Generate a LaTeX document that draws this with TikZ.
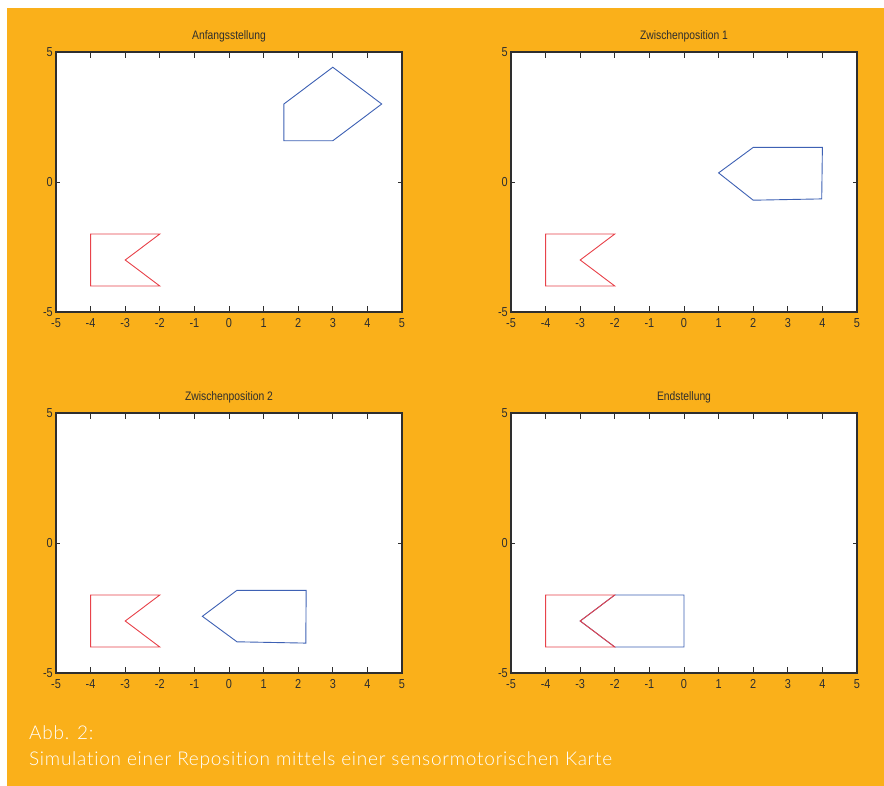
\documentclass[tikz,border=0pt]{standalone}
\usepackage{fontspec}
\setmainfont{Liberation Sans}
\newfontfamily\axfont[FakeStretch=0.84]{Liberation Sans}
\newfontfamily\capfont[LetterSpace=4,Ligatures=NoCommon]{Lato Light}
\definecolor{bg}{HTML}{FAB01A}
\definecolor{axcol}{HTML}{2E2E2E}
\definecolor{shapered}{HTML}{E8434B}
\definecolor{shapeblue}{HTML}{3E61B4}
\tikzset{
  frame/.style={draw=axcol, line width=1.2pt},
  tickline/.style={draw=axcol, line width=0.8pt},
  ptitle/.style={font=\axfont\fontsize{12.3}{13}\selectfont, text=axcol, inner sep=0pt},
  ticklab/.style={font=\axfont\fontsize{13}{13}\selectfont, text=axcol, inner sep=0pt},
  redshape/.style={draw=shapered, line width=0.9pt, line join=miter},
  blueshape/.style={draw=shapeblue, line width=0.9pt, line join=miter},
  caption/.style={font=\capfont\fontsize{19}{21}\selectfont, text=white, inner sep=0pt, anchor=base west}
}
\newcommand\myaxes[4]{%
  \begin{scope}[shift={(#2,#3)}]
    \fill[white] (-173,-130) rectangle (173,130);
    \foreach \i in {-4,...,4} {
      \draw[tickline] (\i*34.6,-130) -- ++(0,6);
      \draw[tickline] (\i*34.6,130) -- ++(0,-6);
    }
    \draw[tickline] (-173,0) -- ++(4,0);
    \draw[tickline] (173,0) -- ++(-4,0);
    \draw[frame] (-173,-130) rectangle (173,130);
    \node[ptitle] (#1title) at (0,-146) {#4};
    \foreach \i in {-5,...,5} {
      \node[ticklab, anchor=north] (#1x\i) at (\i*34.6,136) {\i};
    }
    \node[ticklab, anchor=east] (#1y5) at (-176,-130) {5};
    \node[ticklab, anchor=east] (#1y0) at (-176,0) {0};
    \node[ticklab, anchor=east] (#1ym5) at (-176,130) {-5};
  \end{scope}}
\newcommand\redflag{\draw[redshape] (-4,-2) -- (-2,-2) -- (-3,-3) -- (-2,-4) -- (-4,-4) -- cycle;}
\begin{document}
\begin{tikzpicture}[x=1pt,y=-1pt]
\useasboundingbox (0,0) rectangle (884,786);
\fill[white] (0,0) rectangle (884,786);
\fill[bg] (7,8) rectangle (884,786);

\myaxes{a}{229}{182}{Anfangsstellung}
\myaxes{b}{684}{182}{Zwischenposition 1}
\myaxes{c}{229}{543}{Zwischenposition 2}
\myaxes{d}{684}{543}{Endstellung}

\begin{scope}[shift={(229,182)},x=34.6pt,y=26pt]
  \draw[blueshape] (1.586,1.586) -- (1.586,3) -- (3,4.414) -- (4.414,3) -- (3,1.586) -- cycle;
  \redflag
\end{scope}
\begin{scope}[shift={(684,182)},x=34.6pt,y=26pt]
  \draw[blueshape] (1,0.35) -- (2,1.33) -- (4,1.33) -- (3.98,-0.65) -- (2,-0.7) -- cycle;
  \redflag
\end{scope}
\begin{scope}[shift={(229,543)},x=34.6pt,y=26pt]
  \draw[blueshape] (-0.77,-2.82) -- (0.23,-1.82) -- (2.23,-1.82) -- (2.22,-3.85) -- (0.23,-3.8) -- cycle;
  \redflag
\end{scope}
\begin{scope}[shift={(684,543)},x=34.6pt,y=26pt]
  \draw[blueshape] (-3,-3) -- (-2,-2) -- (0,-2) -- (0,-4) -- (-2,-4) -- cycle;
  \redflag
\end{scope}

\node[caption] (cap1) at (29,739) {Abb. 2:};
\node[caption] (cap2) at (29,765) {Simulation einer Reposition mittels einer sensormotorischen Karte};
\end{tikzpicture}
\end{document}
